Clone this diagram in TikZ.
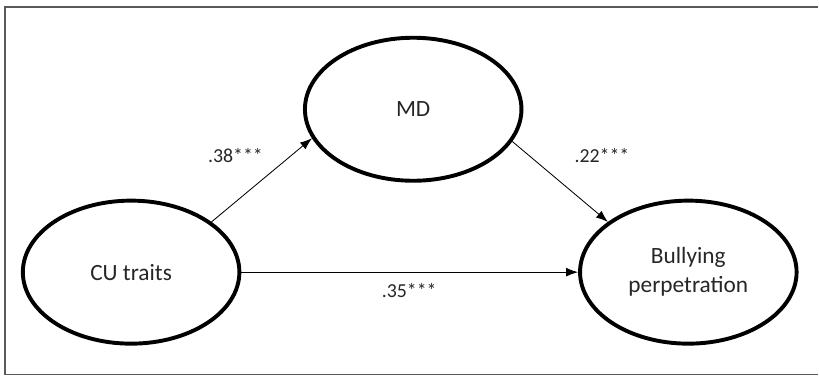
\documentclass[tikz,border=0pt]{standalone}
\usepackage{fontspec}
\setmainfont{Carlito}
\usepackage{tikz}
\usetikzlibrary{shapes}
\usetikzlibrary{positioning}
\usetikzlibrary{arrows.meta}
\tikzset{
    latent/.style = {ellipse, line width=2.8pt, draw=black, align=center, inner sep=0pt, minimum width=5.45cm, minimum height=3.6cm, font=\fontsize{16.7}{20.6}\selectfont, text=black!85},
    coef/.style = {inner sep=0pt, font=\fontsize{14.2}{17}\selectfont, text=black!85},
    path/.style = {-{Latex[length=3mm,width=2.2mm]}, line width=0.6pt, black},
    frame/.style = {line width=0.8pt, black!65}
}

\begin{document}
\begin{tikzpicture}
\node[latent] at (3.3, 2.625) (cu) {CU traits};
\node[latent] at (10.4, 6.725) (md) {MD};
\node[latent] at (17.325, 2.625) (bp) {Bullying\\perpetration};
%
\draw[path] (cu.32) -- (md.196);
\draw[path] (md.-18) -- (bp.148);
\draw[path] (cu.east) -- (bp.west);
%
\node[coef] at (5.925, 5.55) (a) {.38***};
\node[coef] at (15.15, 5.55) (b) {.22***};
\node[coef] at (10.3, 2.15) (c) {.35***};

\draw[frame] (20.6, 9.3) -- (0.125, 9.3) -- (0.125, 0.05) -- (20.6, 0.05);
\path[use as bounding box] (0, 0) rectangle (20.475, 9.475);
\end{tikzpicture}
\end{document}
